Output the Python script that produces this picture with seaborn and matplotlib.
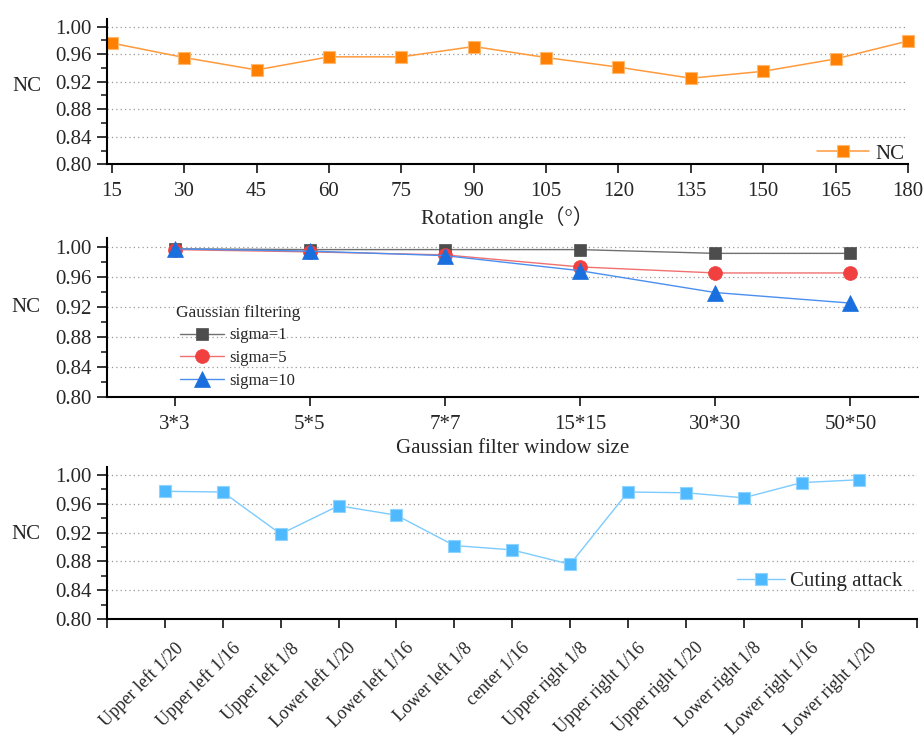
import numpy as np
import pandas as pd
import seaborn as sns
import matplotlib.pyplot as plt
import matplotlib.transforms as mtrans
from matplotlib.ticker import MultipleLocator, FormatStrFormatter

# rotation attack
angles = [15, 30, 45, 60, 75, 90, 105, 120, 135, 150, 165, 180]
nc_rotation = [0.976, 0.955, 0.937, 0.956, 0.956, 0.971, 0.955, 0.941, 0.925, 0.935, 0.953, 0.979]

# gaussian filtering
windows = ["3*3", "5*5", "7*7", "15*15", "30*30", "50*50"]
nc_sigma1 = [0.997, 0.996, 0.996, 0.996, 0.991, 0.991]
nc_sigma5 = [0.996, 0.993, 0.989, 0.973, 0.965, 0.965]
nc_sigma10 = [0.997, 0.994, 0.988, 0.968, 0.939, 0.925]

# cutting attack
regions = ["Upper left 1/20", "Upper left 1/16", "Upper left 1/8", "Lower left 1/20",
           "Lower left 1/16", "Lower left 1/8", "center 1/16", "Upper right 1/8",
           "Upper right 1/16", "Upper right 1/20", "Lower right 1/8", "Lower right 1/16",
           "Lower right 1/20"]
nc_cutting = [0.977, 0.976, 0.918, 0.957, 0.944, 0.902, 0.896, 0.876,
              0.976, 0.975, 0.968, 0.989, 0.993]

sns.set_style("ticks")
plt.rcParams["font.family"] = ["Liberation Serif", "Noto Sans CJK SC"]
plt.rcParams["axes.unicode_minus"] = False

fig = plt.figure(figsize=(9.24, 7.38), dpi=100)
ax1 = fig.add_axes([0.1158, 0.7774, 0.8669, 0.1969])
ax2 = fig.add_axes([0.1158, 0.4617, 0.8777, 0.2154])
ax3 = fig.add_axes([0.1158, 0.1608, 0.8770, 0.2068])


def style_axis(ax, label_y):
    ax.set_ylim(0.8, 1.011)
    ax.yaxis.set_major_locator(MultipleLocator(0.04))
    ax.yaxis.set_minor_locator(MultipleLocator(0.02))
    ax.yaxis.set_major_formatter(FormatStrFormatter("%.2f"))
    ax.grid(axis="y", which="major", ls=(0, (1, 2.5)), color="#999999", lw=0.9)
    ax.set_axisbelow(True)
    for s in ["top", "right"]:
        ax.spines[s].set_visible(False)
    for s in ["left", "bottom"]:
        ax.spines[s].set_linewidth(1.5)
        ax.spines[s].set_color("black")
    ax.tick_params(axis="y", which="major", length=7, width=1.3, labelsize=15, pad=4,
                   direction="out", left=True)
    ax.tick_params(axis="y", which="minor", length=4, width=1.2, direction="out", left=True)
    ax.tick_params(axis="x", which="major", length=6.5, width=1.3, labelsize=15, pad=6,
                   direction="out", bottom=True)
    ax.set_ylabel("NC", rotation=0, fontsize=15, ha="center", va="center")
    ax.yaxis.set_label_coords(-0.1, label_y)


# panel 1
df_rot = pd.DataFrame({"angle": angles, "NC": nc_rotation})
sns.lineplot(data=df_rot, x="angle", y="NC", ax=ax1, color="#FF9A3C", lw=1.1,
             marker="s", markersize=8.5, markerfacecolor="#FF8000",
             markeredgecolor="#FFB870", markeredgewidth=0.8, label="NC", clip_on=False)
ax1.set_xlim(14, 180)
ax1.set_xticks(angles)
style_axis(ax1, 0.534)
ax1.set_xlabel("Rotation angle（°）", fontsize=15, va="center")
ax1.xaxis.set_label_coords(0.5, -0.37)
ax1.legend(loc="center right", bbox_to_anchor=(0.995, 0.071), frameon=False,
           fontsize=15, borderpad=0, borderaxespad=0, handlelength=2.5,
           handletextpad=0.3)

# panel 2
pos_w = np.arange(len(windows))
series = [("sigma=1", nc_sigma1, "#4D4D4D", "#707070", "s", 8.5),
          ("sigma=5", nc_sigma5, "#F04040", "#F07070", "o", 10),
          ("sigma=10", nc_sigma10, "#1A6FDF", "#4A8FEF", "^", 11)]
for name, vals, col, lcol, mk, ms in series:
    d = pd.DataFrame({"pos": pos_w, "NC": vals})
    sns.lineplot(data=d, x="pos", y="NC", ax=ax2, color=lcol, lw=1.0, marker=mk,
                 markersize=ms, markerfacecolor=col, markeredgecolor=col,
                 markeredgewidth=0.5, label=name, clip_on=False)
ax2.set_xlim(-0.5, 5.5)
ax2.set_xticks(pos_w)
ax2.set_xticklabels(windows)
style_axis(ax2, 0.562)
ax2.set_xlabel("Gaussian filter window size", fontsize=15, va="center")
ax2.xaxis.set_label_coords(0.5, -0.325)
ax2.legend(loc="center", bbox_to_anchor=(0.1615, 0.318), frameon=False,
           title="Gaussian filtering", title_fontsize=12.5, fontsize=12,
           borderpad=0, borderaxespad=0, handlelength=2.6, handletextpad=0.35,
           labelspacing=0.4)

# panel 3
pos_c = np.arange(len(regions))
df_cut = pd.DataFrame({"pos": pos_c, "NC": nc_cutting})
sns.lineplot(data=df_cut, x="pos", y="NC", ax=ax3, color="#7CCBFF", lw=1.0,
             marker="s", markersize=8.5, markerfacecolor="#4FB9FF",
             markeredgecolor="#8FD3FF", markeredgewidth=0.8, label="Cuting attack",
             clip_on=False)
ax3.set_xlim(-1, 13)
ax3.set_xticks(np.arange(-1, 14))
ax3.set_xticklabels([""] + regions + [""])
style_axis(ax3, 0.559)
ax3.set_xlabel("")
ax3.tick_params(axis="x", labelsize=13, pad=8)
offset = mtrans.ScaledTranslation(9 / 100, 0, fig.dpi_scale_trans)
for lbl in ax3.get_xticklabels():
    lbl.set_rotation(45)
    lbl.set_ha("right")
    lbl.set_va("top")
    lbl.set_rotation_mode("anchor")
    lbl.set_transform(lbl.get_transform() + offset)
ax3.legend(loc="center right", bbox_to_anchor=(0.982, 0.251), frameon=False,
           fontsize=15, borderpad=0, borderaxespad=0, handlelength=2.3,
           handletextpad=0.25)

fig.savefig("out.png", dpi=100)
